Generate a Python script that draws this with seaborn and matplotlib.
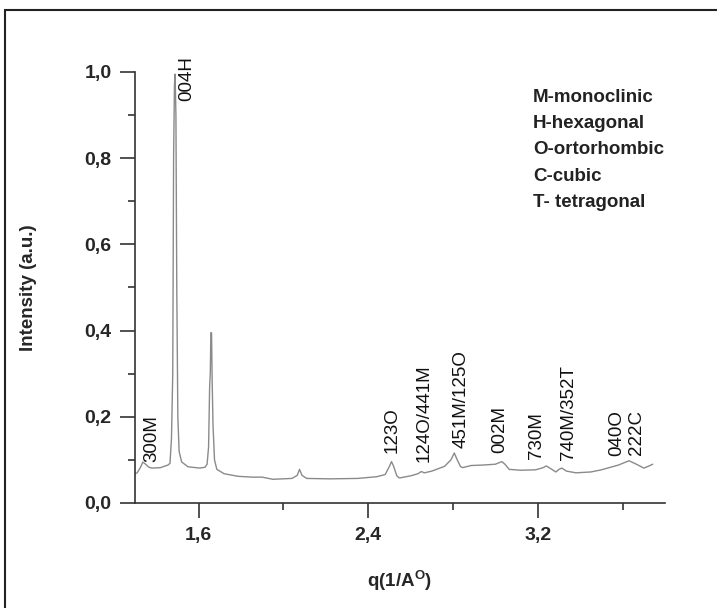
import matplotlib
matplotlib.use("Agg")
import matplotlib.pyplot as plt
import seaborn as sns
import pandas as pd
from matplotlib.ticker import MultipleLocator, FuncFormatter
from matplotlib.patches import Rectangle

# Scattering vector q (1/A) and normalised intensity
q = [1.300, 1.310, 1.325, 1.337, 1.350, 1.365, 1.380, 1.420, 1.455, 1.465,
     1.472, 1.478, 1.482, 1.486, 1.489, 1.493, 1.497, 1.502, 1.508, 1.520,
     1.526, 1.550, 1.606, 1.630, 1.640, 1.647, 1.652, 1.655, 1.658, 1.661,
     1.664, 1.668, 1.675, 1.686, 1.720, 1.785, 1.850, 1.900, 1.950, 2.040,
     2.065, 2.076, 2.088, 2.110, 2.220, 2.350, 2.440, 2.480, 2.500, 2.510,
     2.520, 2.535, 2.547, 2.600, 2.635, 2.650, 2.665, 2.700, 2.760, 2.790,
     2.806, 2.820, 2.835, 2.845, 2.886, 2.940, 3.000, 3.030, 3.045, 3.065,
     3.120, 3.190, 3.225, 3.240, 3.260, 3.285, 3.300, 3.313, 3.335, 3.380,
     3.450, 3.500, 3.580, 3.630, 3.665, 3.700, 3.725, 3.742]
intensity = [0.068, 0.070, 0.082, 0.095, 0.090, 0.083, 0.081, 0.082, 0.088, 0.092,
             0.150, 0.300, 0.800, 0.970, 0.995, 0.900, 0.500, 0.200, 0.120, 0.095,
             0.093, 0.084, 0.081, 0.083, 0.090, 0.130, 0.270, 0.300, 0.395, 0.395,
             0.280, 0.180, 0.100, 0.078, 0.068, 0.062, 0.060, 0.060, 0.055, 0.057,
             0.064, 0.078, 0.064, 0.057, 0.056, 0.057, 0.061, 0.066, 0.085, 0.096,
             0.085, 0.063, 0.058, 0.063, 0.068, 0.073, 0.070, 0.074, 0.085, 0.100,
             0.116, 0.100, 0.085, 0.082, 0.087, 0.088, 0.090, 0.096, 0.090, 0.078,
             0.076, 0.077, 0.082, 0.086, 0.080, 0.072, 0.078, 0.081, 0.074, 0.070,
             0.072, 0.077, 0.088, 0.098, 0.090, 0.081, 0.086, 0.090]

# Reflection labels (hkl + phase) and where they sit
peak_labels = ["300M", "004H", "123O", "124O/441M", "451M/125O",
               "002M", "730M", "740M/352T", "040O", "222C"]
label_q = [1.380, 1.545, 2.514, 2.665, 2.839, 3.022, 3.196, 3.347, 3.573, 3.667]
label_y = [0.095, 0.933, 0.116, 0.095, 0.128, 0.116, 0.102, 0.100, 0.109, 0.112]

phase_key = ["M-monoclinic", "H-hexagonal", "O-ortorhombic", "C-cubic", "T- tetragonal"]

sns.set_theme(style="ticks")
plt.rcParams["font.family"] = ["Liberation Sans", "DejaVu Sans"]
plt.rcParams["mathtext.fontset"] = "custom"
plt.rcParams["mathtext.bf"] = "Liberation Sans:bold"
plt.rcParams["mathtext.rm"] = "Liberation Sans"

fig = plt.figure(figsize=(7.17, 6.08), dpi=100)
ax = fig.add_axes([0.1883, 0.1727, 0.7392, 0.7089])

df = pd.DataFrame({"q": q, "I": intensity})
sns.lineplot(data=df, x="q", y="I", ax=ax, color="#8a8a8a", linewidth=1.0,
             sort=False, estimator=None)

ax.set_xlim(1.3, 3.8)
ax.set_ylim(0.0, 1.0)
ax.xaxis.set_major_locator(MultipleLocator(0.8))
ax.xaxis.set_minor_locator(MultipleLocator(0.4))
ax.yaxis.set_major_locator(MultipleLocator(0.2))
ax.yaxis.set_minor_locator(MultipleLocator(0.1))
comma = FuncFormatter(lambda v, p: f"{v:.1f}".replace(".", ","))
ax.xaxis.set_major_formatter(comma)
ax.yaxis.set_major_formatter(comma)

for s in ["top", "right"]:
    ax.spines[s].set_visible(False)
for s in ["left", "bottom"]:
    ax.spines[s].set_color("#333333")
    ax.spines[s].set_linewidth(1.2)

ax.tick_params(which="major", direction="out", length=11, width=1.2,
               color="#333333", labelsize=14, pad=6)
ax.tick_params(which="minor", direction="out", length=5, width=1.2,
               color="#333333")
for lab in ax.get_xticklabels() + ax.get_yticklabels():
    lab.set_fontweight("bold")

ax.set_xlabel(r"q(1/A$^{\mathbf{O}}$)", fontsize=13.5, fontweight="bold", labelpad=18)
ax.set_ylabel("Intensity (a.u.)", fontsize=13.5, fontweight="bold", labelpad=34)

for txt, xq, yv in zip(peak_labels, label_q, label_y):
    ax.text(xq, yv, txt, rotation=90, ha="center", va="bottom",
            fontsize=13.5, color="#111111")

for i, line in enumerate(phase_key):
    fig.text(533 / 717, 1 - (97 + i * 26.5) / 608, line, ha="left", va="center",
             fontsize=13.5, fontweight="bold", color="#222222")

# Outer frame (open on the right and bottom edges)
fig.patches.append(Rectangle((5 / 717, -0.1), 1.2, 1.1 - 10.5 / 608,
                             transform=fig.transFigure, fill=False,
                             edgecolor="#222222", linewidth=1.5))

fig.savefig("out.png", dpi=100)
